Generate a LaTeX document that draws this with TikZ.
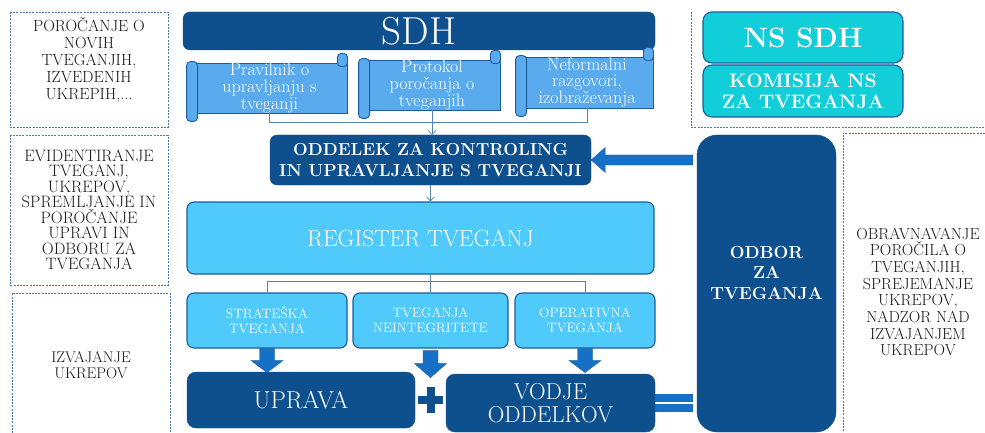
\documentclass[tikz,border=0pt]{standalone}
\usetikzlibrary{positioning,arrows.meta}

\definecolor{sdhblue}{HTML}{0E4F8E}
\definecolor{scrollblue}{HTML}{5AAAEE}
\definecolor{regcyan}{HTML}{50CAFA}
\definecolor{edgeblue}{HTML}{1D5C9E}
\definecolor{arrowblue}{HTML}{1570C6}
\definecolor{nscyan}{HTML}{12CED9}
\definecolor{noteblue}{HTML}{4A78AA}
\definecolor{lineblue}{HTML}{5584B4}

\tikzset{
  darkbox/.style={fill=sdhblue, draw=sdhblue, rounded corners=7pt, text=white, align=center, inner sep=0pt},
  lightbox/.style={fill=regcyan, draw=edgeblue, line width=1.1pt, rounded corners=7pt, text=white, align=center, inner sep=0pt},
  nsbox/.style={fill=nscyan, draw=edgeblue, line width=1.1pt, rounded corners=9pt, text=white, align=center, inner sep=0pt},
  notebox/.style={draw=noteblue, dash pattern=on 2pt off 1.2pt, line width=0.6pt},
  notetext/.style={align=center, text=black!90, inner sep=0pt},
  scroll/.style={fill=scrollblue, draw=edgeblue, line width=0.9pt, text=white, align=center, inner sep=0pt},
  link/.style={draw=lineblue, line width=0.7pt},
  fatarrow/.style={fill=arrowblue, draw=edgeblue, line width=0.4pt},
}

\begin{document}
\begin{tikzpicture}[x=1pt,y=-1pt]
\useasboundingbox[fill=white] (0,0) rectangle (985,433);

% dashed note boxes
\draw[notebox] (10,12) rectangle (168,127);
\draw[notebox] (10,135) rectangle (168,285);
\draw[notebox] (12,433) -- (12,293) -- (170,293) -- (170,433);
\draw[notebox] (985,133) -- (843,133) -- (843,433);
\draw[notebox] (691,12) -- (691,127) -- (985,127);

\node[notetext, font=\fontsize{16.2}{17}\selectfont] (n1) at (89,60)
  {POROČANJE O\\NOVIH\\TVEGANJIH,\\IZVEDENIH\\UKREPIH,...};
\node[notetext, font=\fontsize{16.5}{15.5}\selectfont] (n2) at (89,210)
  {EVIDENTIRANJE\\TVEGANJ,\\UKREPOV,\\SPREMLJANJE IN\\POROČANJE\\UPRAVI IN\\ODBORU ZA\\TVEGANJA};
\node[notetext, font=\fontsize{15.5}{15.5}\selectfont] (n3) at (91,365)
  {IZVAJANJE\\UKREPOV};
\node[notetext, font=\fontsize{16}{16.7}\selectfont] (n4) at (918,292)
  {OBRAVNAVANJE\\POROČILA O\\TVEGANJIH,\\SPREJEMANJE\\UKREPOV,\\NADZOR NAD\\IZVAJANJEM\\UKREPOV};

% top
\node[darkbox, minimum width=472pt, minimum height=38pt, font=\fontsize{39}{39}\selectfont] (sdh) at (419,31) {SDH};
\node[scroll, minimum width=155pt, minimum height=50pt, font=\fontsize{18}{16.7}\selectfont] (pr) at (269.5,88)
  {Pravilnik o\\upravljanju s\\tveganji};
\node[scroll, minimum width=136pt, minimum height=50pt, font=\fontsize{18}{16.7}\selectfont] (pt) at (432,85)
  {Protokol\\poročanja o\\tveganjih};
\node[scroll, minimum width=132pt, minimum height=51pt, font=\fontsize{18}{16.7}\selectfont] (nf) at (587,82.5)
  {Neformalni\\razgovori,\\izobraževanja};
\foreach \s in {pr,pt,nf} {
  \draw[scroll, rounded corners=4pt] ([xshift=-5pt,yshift=1pt]\s.north west) rectangle ([xshift=6pt,yshift=-8pt]\s.south west);
  \draw[scroll, rounded corners=3.5pt] ([xshift=-10pt,yshift=-4pt]\s.north east) rectangle ([yshift=9pt]\s.north east);
}

\node[nsbox, minimum width=200pt, minimum height=51pt, font=\bfseries\fontsize{28}{28}\selectfont] (ns) at (803,37.5) {NS SDH};
\node[nsbox, minimum width=200pt, minimum height=52pt, font=\bfseries\fontsize{19.5}{21}\selectfont] (kom) at (803,91)
  {KOMISIJA NS\\ZA TVEGANJA};

% middle
\node[darkbox, minimum width=321pt, minimum height=50pt, font=\bfseries\fontsize{17.4}{21}\selectfont] (od) at (430.5,160)
  {ODDELEK ZA KONTROLING\\IN UPRAVLJANJE S TVEGANJI};
\node[lightbox, minimum width=467pt, minimum height=72pt, font=\fontsize{23.3}{24}\selectfont] (reg) at (420.5,238)
  {REGISTER TVEGANJ};
\node[darkbox, rounded corners=20pt, minimum width=139pt, minimum height=297pt] (odbor) at (766.5,283.5) {};
\node[text=white, align=center, inner sep=0pt, font=\bfseries\fontsize{17.5}{20.5}\selectfont] (odl) at ([yshift=11pt]odbor.center)
  {ODBOR\\ZA\\TVEGANJA};

\node[lightbox, minimum width=160pt, minimum height=55pt, font=\fontsize{13.6}{15}\selectfont] (sa) at (267,320.5)
  {STRATEŠKA\\TVEGANJA};
\node[lightbox, minimum width=155pt, minimum height=55pt, font=\fontsize{13.6}{15}\selectfont] (ni) at (430.5,320.5)
  {TVEGANJA\\NEINTEGRITETE};
\node[lightbox, minimum width=140pt, minimum height=55pt, font=\fontsize{13.6}{15}\selectfont] (op) at (585,320.5)
  {OPERATIVNA\\TVEGANJA};

% bottom
\node[darkbox, rounded corners=9pt, minimum width=228pt, minimum height=56pt, font=\fontsize{24.5}{23}\selectfont] (up) at (301,400) {UPRAVA};
\node[darkbox, rounded corners=9pt, minimum width=209pt, minimum height=58pt, font=\fontsize{23}{23.5}\selectfont] (vo) at (550.5,403)
  {VODJE\\ODDELKOV};
\coordinate (plus) at (430.5,400);
\fill[sdhblue] ([xshift=-12.5pt,yshift=4pt]plus) rectangle ++(25,8);
\fill[sdhblue] ([xshift=-4pt,yshift=13pt]plus) rectangle ++(8,26);

% connectors
\draw[link] (pr.south) -- ++(0,9) -| (nf.south);
\draw[link, -{Straight Barb[length=4pt,width=8pt]}] (pt.south) -- (pt.south |- od.north);
\draw[link, -{Straight Barb[length=4pt,width=8pt]}] (od.south) -- (od.south |- reg.north);
\coordinate (fork) at ([yshift=11pt]ni.north);
\draw[link] (sa.north) |- (fork) -| (op.north);
\draw[link] (ni.north |- reg.south) -- (ni.north);

\foreach \b in {sa,op} {
  \draw[fatarrow] ([xshift=-7.5pt]\b.south) -- ++(0,12) -- ++(-8.5,0) -- ++(16,12) -- ++(16,-12) -- ++(-8.5,0) -- ++(0,-12) -- cycle;
}
\draw[fatarrow] ([xshift=-7.5pt,yshift=-2pt]ni.south) -- ++(0,13) -- ++(-8.5,0) -- ++(16,14) -- ++(16,-14) -- ++(-8.5,0) -- ++(0,-13) -- cycle;

\draw[fatarrow] (od.east) -- ++(14,-12.5) -- ++(0,7.5) -- ([xshift=-4pt,yshift=5pt]odbor.west |- od.east)
  -- ([xshift=-4pt,yshift=-5pt]odbor.west |- od.east) -- ([xshift=14pt,yshift=-5pt]od.east) -- ++(0,7.5) -- cycle;

\fill[arrowblue] ([yshift=1pt]vo.east) rectangle ++(38,-8);
\fill[arrowblue] ([yshift=-1pt]vo.east) rectangle ++(38,8);

\end{tikzpicture}
\end{document}
